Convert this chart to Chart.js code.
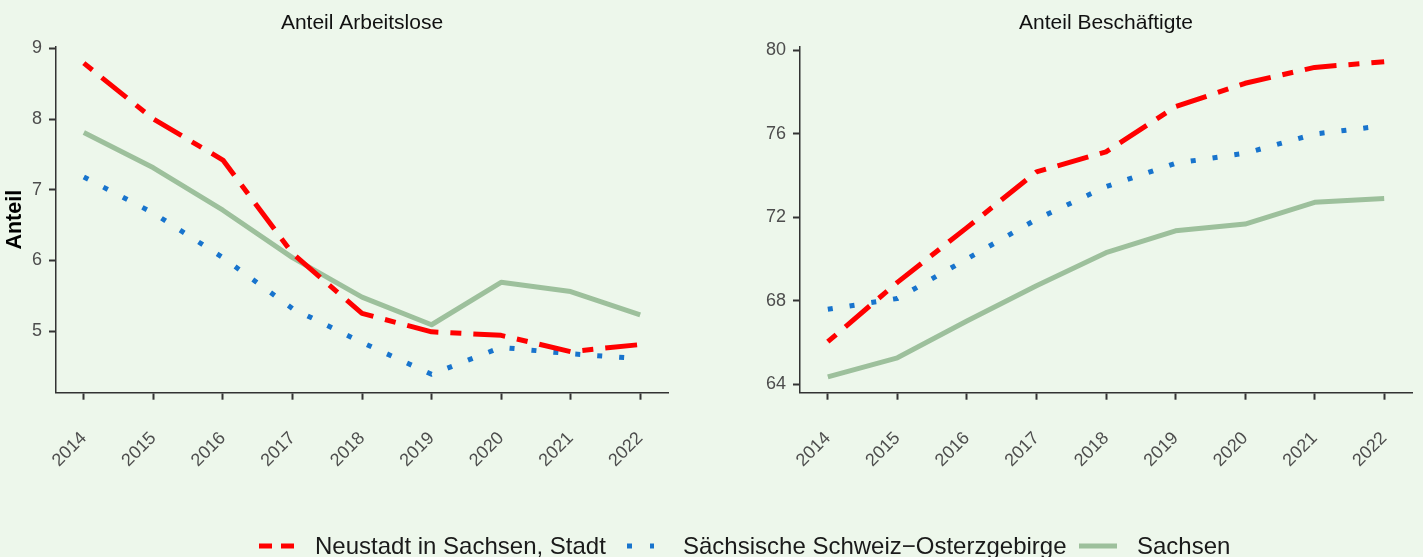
<!DOCTYPE html>
<html>
<head>
<meta charset="utf-8">
<script src="https://cdn.jsdelivr.net/npm/chart.js@4.4.1/dist/chart.umd.min.js"></script>
<style>
  html, body { margin: 0; padding: 0; background: #EDF7EB; }
  body { width: 1423px; height: 557px; position: relative; overflow: hidden; font-family: "Liberation Sans", Arial, sans-serif; }
  .box { position: absolute; top: 0; height: 490px; }
  #left { left: 0; width: 700px; }
  #right { left: 720px; width: 703px; }
  .leg { position: absolute; top: 531px; height: 30px; line-height: 30px; font-size: 24px; color: #1a1a1a; white-space: nowrap; }
  #legendLines { position: absolute; left: 0; top: 0; }
</style>
</head>
<body>
<div class="box" id="left"><canvas id="chartArbeitslose"></canvas></div>
<div class="box" id="right"><canvas id="chartBeschaeftigte"></canvas></div>
<svg id="legendLines" width="1423" height="557"></svg>
<div id="legendText"></div>
<script>
// data
const years = [2014, 2015, 2016, 2017, 2018, 2019, 2020, 2021, 2022];
const seriesNames = ["Neustadt in Sachsen, Stadt", "Sächsische Schweiz−Osterzgebirge", "Sachsen"];

const arbNeustadt = [8.79, 8.0, 7.42, 6.1, 5.25, 4.99, 4.94, 4.71, 4.81];
const arbSchweiz  = [7.18, 6.67, 6.04, 5.32, 4.84, 4.39, 4.77, 4.68, 4.61];
const arbSachsen  = [7.81, 7.31, 6.71, 6.04, 5.48, 5.09, 5.69, 5.56, 5.23];

const besNeustadt = [66.04, 68.88, 71.5, 74.17, 75.13, 77.29, 78.41, 79.17, 79.44];
const besSchweiz  = [67.59, 68.11, 70.0, 71.9, 73.46, 74.58, 75.06, 75.98, 76.38];
const besSachsen  = [64.36, 65.27, 67.03, 68.72, 70.3, 71.35, 71.67, 72.71, 72.9];

const yTicksArb = [5, 6, 7, 8, 9];
const yTicksBes = [64, 68, 72, 76, 80];

// styles
const colors = ["#FF0000", "#1874CD", "#9DC09C"];
const dashes = [[11, 12, 32, 12], [5, 17], []];
const tickColor = "#4D4D4D";
const axisColor = "#333333";
const font = "'Liberation Sans', Arial, sans-serif";
const canvasH = 490;

function makeDatasets(values) {
  return values.map((vals, i) => ({
    label: seriesNames[i],
    data: years.map((y, k) => ({ x: y, y: vals[k] })),
    borderColor: colors[i],
    backgroundColor: colors[i],
    borderWidth: 5,
    borderDash: dashes[i],
    borderCapStyle: "butt",
    borderJoinStyle: "round",
    pointRadius: 0,
    tension: 0,
    order: i === 2 ? 3 : (i === 1 ? 2 : 1)
  }));
}

function makeChart(id, title, values, yTicks, yMin, yMax, yWidth, padRight, yTitle) {
  return new Chart(document.getElementById(id), {
    type: "line",
    data: { datasets: makeDatasets(values) },
    options: {
      responsive: true,
      maintainAspectRatio: false,
      animation: false,
      layout: { padding: { left: 0, right: padRight, top: 0, bottom: 0 } },
      plugins: {
        legend: { display: false },
        tooltip: { enabled: false },
        title: {
          display: true,
          text: title,
          fullSize: false,
          color: "#111",
          font: { family: font, size: 21, weight: "normal", lineHeight: 1.2 },
          padding: { top: 10.5, bottom: 11 }
        }
      },
      scales: {
        x: {
          type: "linear",
          min: 2013.6,
          max: 2022.4,
          afterBuildTicks: s => { s.ticks = years.map(v => ({ value: v })); },
          afterFit: s => {
            s.height = canvasH - 392.7;
            s.paddingLeft = 0;
            s.paddingRight = 0;
          },
          grid: { display: true, drawOnChartArea: false, drawTicks: true, tickLength: 7, tickColor: axisColor, tickWidth: 2 },
          border: { display: true, color: axisColor, width: 1.5 },
          ticks: {
            autoSkip: false,
            minRotation: 45,
            maxRotation: 45,
            padding: 28,
            color: tickColor,
            font: { family: font, size: 18 },
            callback: v => String(v)
          }
        },
        y: {
          min: yMin,
          max: yMax,
          afterBuildTicks: s => { s.ticks = yTicks.map(v => ({ value: v })); },
          afterFit: s => { s.width = yWidth; },
          grid: { display: true, drawOnChartArea: false, drawTicks: true, tickLength: 7, tickColor: axisColor, tickWidth: 2 },
          border: { display: true, color: axisColor, width: 1.5 },
          title: {
            display: !!yTitle,
            text: yTitle,
            color: "#000",
            font: { family: font, size: 21.5, weight: "bold", lineHeight: 1.2 },
            padding: { top: 2, bottom: 0 }
          },
          ticks: {
            padding: 7,
            color: tickColor,
            font: { family: font, size: 18 },
            callback: v => String(v)
          }
        }
      }
    }
  });
}

makeChart("chartArbeitslose", "Anteil Arbeitslose",
  [arbNeustadt, arbSchweiz, arbSachsen], yTicksArb, 4.129, 9.023, 56, 32, "Anteil");
makeChart("chartBeschaeftigte", "Anteil Beschäftigte",
  [besNeustadt, besSchweiz, besSachsen], yTicksBes, 63.6, 80.16, 80, 11, "");

// shared legend below both panels
const legendSamples = [
  { x1: 259, x2: 294, text: 315, dash: "13 9" },
  { x1: 627, x2: 654, text: 683, dash: "5 18" },
  { x1: 1079, x2: 1117, text: 1137, dash: "" }
];
const svg = document.getElementById("legendLines");
const legendText = document.getElementById("legendText");
legendSamples.forEach((s, i) => {
  const ln = document.createElementNS("http://www.w3.org/2000/svg", "line");
  ln.setAttribute("x1", s.x1);
  ln.setAttribute("x2", s.x2);
  ln.setAttribute("y1", 546);
  ln.setAttribute("y2", 546);
  ln.setAttribute("stroke", colors[i]);
  ln.setAttribute("stroke-width", 5);
  if (s.dash) ln.setAttribute("stroke-dasharray", s.dash);
  svg.appendChild(ln);
  const d = document.createElement("div");
  d.className = "leg";
  d.style.left = s.text + "px";
  d.textContent = seriesNames[i];
  legendText.appendChild(d);
});
</script>
</body>
</html>
